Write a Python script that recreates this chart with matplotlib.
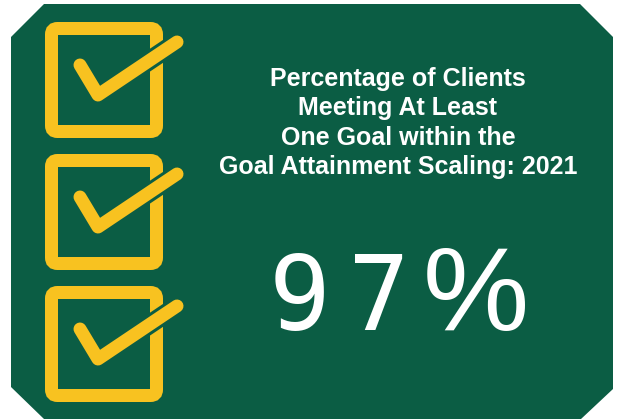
import matplotlib.pyplot as plt
from matplotlib.patches import Polygon, FancyBboxPatch

GREEN = '#0B5D44'
YELLOW = '#F8C220'

# data
title_lines = ["Percentage of Clients", "Meeting At Least",
               "One Goal within the", "Goal Attainment Scaling: 2021"]
pct_value = 97
n_boxes = 3

W, H = 619, 419
fig = plt.figure(figsize=(W / 100, H / 100), dpi=100)
ax = fig.add_axes([0, 0, 1, 1])
ax.set_xlim(0, W)
ax.set_ylim(H, 0)
ax.axis('off')

# background panel with clipped corners
panel = [(44, 4), (580, 4), (613, 37), (613, 389), (581, 419),
         (44, 419), (11, 387), (11, 37)]
ax.add_patch(Polygon(panel, closed=True, fc=GREEN, ec='none'))

px = 72 / 100  # px -> points
for i in range(n_boxes):
    top = 22 + i * 132
    box = FancyBboxPatch((51.5, top + 6.5), 105, 103,
                         boxstyle="round,pad=0,rounding_size=6",
                         fc='none', ec=YELLOW, lw=13 * px)
    ax.add_patch(box)
    cx = [80, 98, 177]
    cy = [top + 43, top + 73, top + 20]
    ax.plot(cx, cy, color=GREEN, lw=19 * px, solid_capstyle='round',
            solid_joinstyle='round')
    ax.plot(cx, cy, color=YELLOW, lw=13 * px, solid_capstyle='round',
            solid_joinstyle='round')

for k, line in enumerate(title_lines):
    ax.text(398, 79 + k * 29.3, line, color='white', fontsize=18,
            fontweight='bold', family='Liberation Sans',
            ha='center', va='center')

chars = list(f"{pct_value}%")
xs = [300, 379, 476]
fams = ['DejaVu Sans Mono', 'DejaVu Sans Mono', 'Liberation Sans']
sizes = [74, 74, 86]
for ch, x, fam, sz in zip(chars, xs, fams, sizes):
    ax.text(x, 330, ch, color='white', fontsize=sz, family=fam,
            ha='center', va='baseline')

fig.savefig('out.png', dpi=100)
